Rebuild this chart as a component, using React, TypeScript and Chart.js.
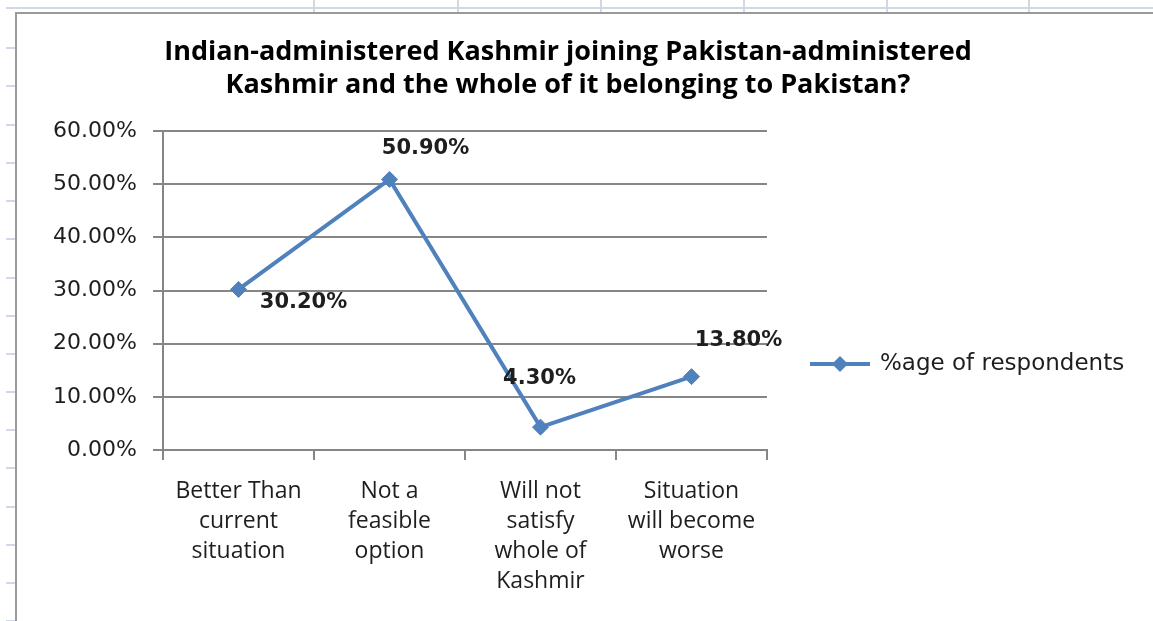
import React, { useEffect, useRef } from "react";
import { Chart, registerables } from "chart.js";

Chart.register(...registerables);

const titleLines = [
  "Indian-administered Kashmir joining Pakistan-administered",
  "Kashmir and the whole of it belonging to Pakistan?",
];
const categories = [
  ["Better Than", "current", "situation"],
  ["Not a", "feasible", "option"],
  ["Will not", "satisfy", "whole of", "Kashmir"],
  ["Situation", "will become", "worse"],
];
const seriesLabel = "%age of respondents";
const values = [30.2, 50.9, 4.3, 13.8];
const yMin = 0;
const yMax = 60;
const yStep = 10;

// label offsets from points (style only)
const labelOffsets = [
  [65, 13],
  [36, -31],
  [-1, -49],
  [47, -36],
];

const LINE_COLOR = "#4f81bd";
const GRID_COLOR = "#868686";
const TEXT_COLOR = "#1e1e1e";

const dataLabelPlugin = {
  id: "dataLabels",
  afterDatasetsDraw(chart: any) {
    const ctx = chart.ctx;
    const meta = chart.getDatasetMeta(0);
    ctx.save();
    ctx.font = "bold 21px 'DejaVu Sans'";
    ctx.fillStyle = TEXT_COLOR;
    ctx.textAlign = "center";
    ctx.textBaseline = "middle";
    meta.data.forEach((el: any, i: number) => {
      const v = chart.data.datasets[0].data[i] as number;
      const off = labelOffsets[i] || [0, -20];
      ctx.fillText(v.toFixed(2) + "%", el.x + off[0], el.y + off[1]);
    });
    ctx.restore();
  },
};

const legendPlugin = {
  id: "customLegend",
  afterDraw(chart: any) {
    const ctx = chart.ctx;
    const area = chart.chartArea;
    const x0 = area.right + 43;
    const y = area.bottom - 86;
    const ds = chart.data.datasets[0];
    ctx.save();
    ctx.strokeStyle = LINE_COLOR;
    ctx.lineWidth = 4;
    ctx.beginPath();
    ctx.moveTo(x0, y);
    ctx.lineTo(x0 + 60, y);
    ctx.stroke();
    const cx = x0 + 30;
    const r = 8;
    ctx.fillStyle = LINE_COLOR;
    ctx.beginPath();
    ctx.moveTo(cx - r, y);
    ctx.lineTo(cx, y - r);
    ctx.lineTo(cx + r, y);
    ctx.lineTo(cx, y + r);
    ctx.closePath();
    ctx.fill();
    ctx.font = "23px 'DejaVu Sans'";
    ctx.fillStyle = TEXT_COLOR;
    ctx.textAlign = "left";
    ctx.textBaseline = "middle";
    ctx.fillText(ds.label, x0 + 70, y);
    ctx.restore();
  },
};

const colLines = [313, 457, 600, 743, 886, 1028];
const rowLines = [47, 85, 124, 162, 200, 238, 277, 315, 353, 391, 429, 467, 506, 544, 582, 620];

export default function App() {
  const canvasRef = useRef<HTMLCanvasElement | null>(null);

  useEffect(() => {
    if (!canvasRef.current) return;
    const chart = new Chart(canvasRef.current, {
      type: "line",
      data: {
        labels: categories,
        datasets: [
          {
            label: seriesLabel,
            data: values,
            borderColor: LINE_COLOR,
            backgroundColor: LINE_COLOR,
            borderWidth: 4,
            pointStyle: "rectRot",
            pointRadius: 8,
            pointBackgroundColor: LINE_COLOR,
            pointBorderColor: LINE_COLOR,
            pointBorderWidth: 1,
            tension: 0,
          },
        ],
      },
      options: {
        animation: false,
        responsive: true,
        maintainAspectRatio: false,
        layout: { padding: { left: 0, right: 0, top: 0, bottom: 0 } },
        plugins: {
          legend: { display: false },
          tooltip: { enabled: false },
          title: {
            display: true,
            text: titleLines,
            color: "#000",
            font: { family: "Open Sans", weight: "bold", size: 27, lineHeight: 33 / 27 },
            padding: { top: 36, bottom: 29 },
          },
        },
        scales: {
          x: {
            type: "category",
            offset: true,
            afterFit: (s: any) => {
              s.height = 171;
            },
            grid: {
              offset: true,
              drawOnChartArea: false,
              drawTicks: true,
              tickLength: 10,
              color: GRID_COLOR,
              tickColor: GRID_COLOR,
              lineWidth: 2,
            },
            border: { display: true, color: GRID_COLOR, width: 2 },
            ticks: {
              color: TEXT_COLOR,
              padding: 16,
              maxRotation: 0,
              autoSkip: false,
              font: { family: "Open Sans", size: 23, lineHeight: 30 / 23 },
            },
          },
          y: {
            min: yMin,
            max: yMax,
            afterFit: (s: any) => {
              s.width = 163;
            },
            grid: {
              color: GRID_COLOR,
              tickColor: GRID_COLOR,
              lineWidth: 2,
              tickLength: 10,
              drawTicks: true,
            },
            border: { display: true, color: GRID_COLOR, width: 2 },
            ticks: {
              stepSize: yStep,
              color: TEXT_COLOR,
              padding: 16,
              font: { family: "DejaVu Sans", size: 22 },
              callback: (v: any) => Number(v).toFixed(2) + "%",
            },
          },
          legendSpace: {
            type: "linear",
            position: "right",
            display: true,
            afterFit: (s: any) => {
              s.width = 369;
            },
            grid: { display: false, drawTicks: false },
            border: { display: false },
            ticks: { display: false },
          },
        },
      },
      plugins: [dataLabelPlugin, legendPlugin],
    });
    return () => chart.destroy();
  }, []);

  return (
    <div
      style={{
        position: "fixed",
        left: 0,
        top: 0,
        width: 1153,
        height: 621,
        background: "#fff",
        overflow: "hidden",
      }}
    >
      <div style={{ position: "absolute", left: 6, top: 7, width: 1147, height: 2, background: "#d0d7e5" }} />
      {colLines.map((x) => (
        <div key={"c" + x} style={{ position: "absolute", left: x, top: 0, width: 2, height: 12, background: "#d0d7e5" }} />
      ))}
      {rowLines.map((y) => (
        <div key={"r" + y} style={{ position: "absolute", left: 6, top: y, width: 9, height: 2, background: "#d0d7e5" }} />
      ))}
      <div
        style={{
          position: "absolute",
          left: 15,
          top: 12,
          width: 1160,
          height: 640,
          borderLeft: "2px solid #9a9a9a",
          borderTop: "2px solid #9a9a9a",
          background: "#fff",
        }}
      />
      <div style={{ position: "absolute", left: 0, top: 0, width: 1136, height: 621 }}>
        <canvas ref={canvasRef} />
      </div>
    </div>
  );
}
